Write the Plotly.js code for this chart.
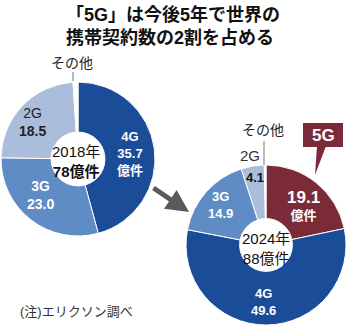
<!DOCTYPE html>
<html><head><meta charset="utf-8">
<script src="https://cdn.plot.ly/plotly-3.0.1.min.js"></script>
<style>html,body{margin:0;padding:0;background:#fff;}#chart{width:350px;height:328px;}</style>
</head><body><div id="chart"></div>
<script>
const cats2018 = ['4G', '3G', '2G', 'その他'];
const vals2018 = [35.7, 23.0, 18.5, 0.8];
const cats2024 = ['5G', '4G', '3G', '2G', 'その他'];
const vals2024 = [19.1, 49.6, 14.9, 4.1, 0.3];
const years = ['2018年', '2024年'];
const totals = [78, 88];
const unit = '億件';
const titleLines = ['「5G」は今後5年で世界の', '携帯契約数の2割を占める'];
const note = '(注)エリクソン調べ';

const W = 350, H = 328;
const px = x => x / W, py = y => 1 - y / H;
const FONT = '"Liberation Sans", "Noto Sans CJK JP", sans-serif';
const C = {'5G': '#7b2b38', '4G': '#1b4c98', '3G': '#5f8cc4', '2G': '#aabddb', 'その他': '#ffffff'};

const traces = [
  {type: 'pie', labels: cats2018, values: vals2018, sort: false, direction: 'clockwise', rotation: 0,
   hole: 0.35, textinfo: 'none', hoverinfo: 'label+value',
   marker: {colors: cats2018.map(c => C[c]), line: {color: '#ffffff', width: 1}},
   domain: {x: [px(1), px(155)], y: [py(236), py(82)]}},
  {type: 'pie', labels: cats2024, values: vals2024, sort: false, direction: 'clockwise', rotation: 0,
   hole: 0.33, textinfo: 'none', hoverinfo: 'label+value',
   marker: {colors: cats2024.map(c => C[c]), line: {color: '#ffffff', width: 1}},
   domain: {x: [px(186), px(346)], y: [py(325), py(165)]}}
];

const f = (v) => v.toFixed(1);
const b = t => '<b>' + t + '</b>';
function ann(x, y, text, size, color, extra) {
  return Object.assign({xref: 'paper', yref: 'paper', x: px(x), y: py(y), text: text,
    showarrow: false, xanchor: 'center', yanchor: 'middle', align: 'center',
    font: {family: FONT, size: size, color: color}}, extra || {});
}
const i18 = k => cats2018.indexOf(k), i24 = k => cats2024.indexOf(k);

const annotations = [
  ann(64, 26, b(titleLines[0] + '<br>' + titleLines[1]), 18, '#111', {xanchor: 'left', align: 'left'}),
  // 2018
  ann(130, 153, b(cats2018[i18('4G')] + '<br>' + f(vals2018[i18('4G')]) + '<br>' + unit), 13, '#fff'),
  ann(40, 195, b(cats2018[i18('3G')] + '<br>' + f(vals2018[i18('3G')])), 14, '#fff'),
  ann(32, 122, cats2018[i18('2G')] + '<br>' + b(f(vals2018[i18('2G')])), 14, '#222'),
  ann(72, 63, cats2018[i18('その他')], 14, '#222'),
  ann(76, 161, years[0] + '<br>' + b(totals[0] + unit), 15, '#111'),
  // 2024
  ann(303, 205, b('<span style="font-size:17px">' + f(vals2024[i24('5G')]) + '</span><br>' + unit), 13, '#fff'),
  ann(263, 302, b(cats2024[i24('4G')] + '<br>' + f(vals2024[i24('4G')])), 13, '#fff'),
  ann(220, 205, b(cats2024[i24('3G')] + '<br>' + f(vals2024[i24('3G')])), 13, '#fff'),
  ann(255, 177, b(f(vals2024[i24('2G')])), 13, '#111'),
  ann(250, 155, cats2024[i24('2G')], 15, '#333'),
  ann(263, 130, cats2024[i24('その他')], 14, '#222'),
  ann(323, 136, b(cats2024[i24('5G')]), 17, '#fff'),
  ann(266, 248, years[1] + '<br>' + totals[1] + unit, 15, '#111'),
  // arrow
  {xref: 'paper', yref: 'paper', x: px(189), y: py(212), ax: -37, ay: -25, axref: 'pixel', ayref: 'pixel',
   text: '', showarrow: true, arrowhead: 2, arrowsize: 0.9, arrowwidth: 5, arrowcolor: '#5a5a5a'},
  ann(18, 311, note, 13, '#333', {xanchor: 'left'})
];

const shapes = [
  {type: 'line', xref: 'paper', yref: 'paper', x0: px(73), x1: px(73), y0: py(72), y1: py(81), line: {color: '#777', width: 1}},
  {type: 'line', xref: 'paper', yref: 'paper', x0: px(264), x1: px(264), y0: py(141), y1: py(165), line: {color: '#777', width: 1}},
  {type: 'rect', xref: 'paper', yref: 'paper', x0: px(303), x1: px(343), y0: py(147), y1: py(123), fillcolor: C['5G'], line: {width: 0}},
  {type: 'path', xref: 'paper', yref: 'paper',
   path: `M ${px(317)} ${py(146)} L ${px(326)} ${py(146)} L ${px(315)} ${py(175)} Z`, fillcolor: C['5G'], line: {width: 0}}
];

Plotly.newPlot('chart', traces, {
  width: W, height: H, margin: {l: 0, r: 0, t: 0, b: 0}, showlegend: false,
  paper_bgcolor: '#fff', plot_bgcolor: '#fff', font: {family: FONT},
  annotations: annotations, shapes: shapes
}, {displayModeBar: false, staticPlot: true});
</script></body></html>
